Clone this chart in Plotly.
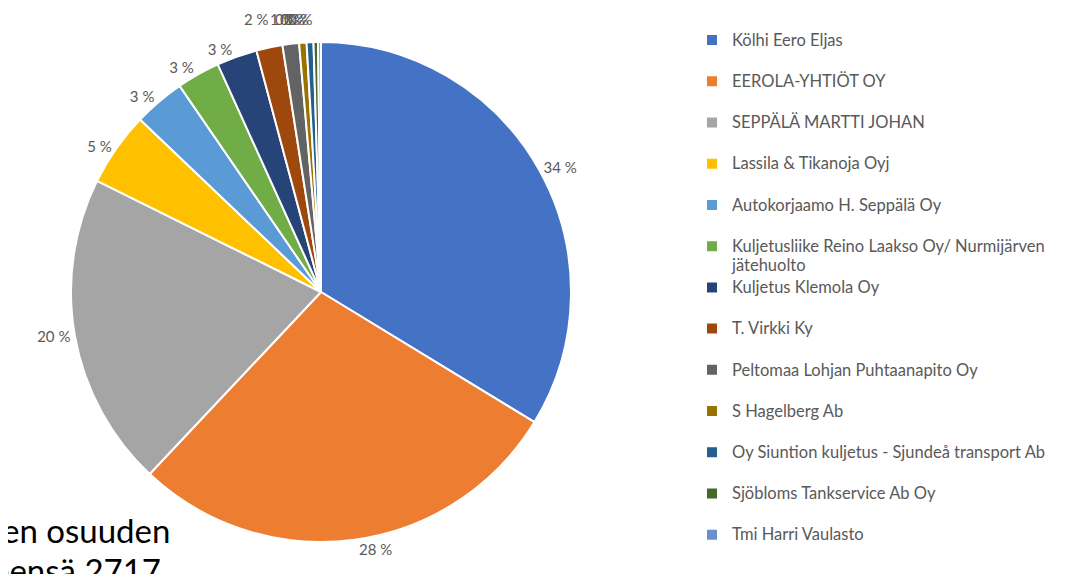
import plotly.graph_objects as go

# Company shares (counts, total 2717)
companies = [
    "Kölhi Eero Eljas",
    "EEROLA-YHTIÖT OY",
    "SEPPÄLÄ MARTTI JOHAN",
    "Lassila & Tikanoja Oyj",
    "Autokorjaamo H. Seppälä Oy",
    "Kuljetusliike Reino Laakso Oy/ Nurmijärven<br>jätehuolto",
    "Kuljetus Klemola Oy",
    "T. Virkki Ky",
    "Peltomaa Lohjan Puhtaanapito Oy",
    "S Hagelberg Ab",
    "Oy Siuntion kuljetus - Sjundeå transport Ab",
    "Sjöbloms Tankservice Ab Oy",
    "Tmi Harri Vaulasto",
]
counts = [916, 769, 552, 130, 90, 76, 71, 46, 29, 13, 12, 8, 5]
colors = [
    "#4472C4", "#ED7D31", "#A5A5A5", "#FFC000", "#5B9BD5", "#70AD47",
    "#264478", "#9E480E", "#636363", "#997300", "#255E91", "#43682B",
    "#698ED0",
]

total = sum(counts)
pct_text = [f"{round(c / total * 100)} %" for c in counts]


def legend_name(name):
    # every legend slot is two lines tall (like Excel); glyphs a bit larger
    lines = name.split("<br>")
    if len(lines) == 1:
        lines.append("&nbsp;")
    return "<br>".join(f"<span style='font-size:16.5px'>{ln}</span>" for ln in lines)


legend_names = [legend_name(n) for n in companies]

W, H = 1074, 574
# page body has an 8px margin, so screen positions are shifted by it
OFF = 8
cx, cy, r = 321 - OFF, 292 - OFF, 250
LABEL_SIZE = 15

# the small slices at the top: Excel lays their labels in one overlapping row
n_big = 7
small_label_x = [243, 269, 274, 279, 283, 287]
small_label_y = 19

fig = go.Figure(
    go.Pie(
        labels=legend_names,
        values=counts,
        text=pct_text,
        textinfo="text",
        textposition=["outside"] * n_big + ["none"] * (len(counts) - n_big),
        sort=False,
        direction="clockwise",
        rotation=0,
        marker=dict(colors=colors, line=dict(color="white", width=2)),
        outsidetextfont=dict(size=LABEL_SIZE, color="#595959"),
        domain=dict(
            x=[(cx - r) / W, (cx + r) / W],
            y=[1 - (cy + r) / H, 1 - (cy - r) / H],
        ),
        hoverinfo="label+value+percent",
    )
)

for txt, sx in zip(pct_text[n_big:], small_label_x):
    fig.add_annotation(
        text=txt, x=(sx - OFF - 1) / W, y=1 - (small_label_y - OFF) / H,
        xref="paper", yref="paper", xanchor="left", yanchor="middle",
        showarrow=False, font=dict(size=LABEL_SIZE, color="#595959"),
    )

fig.add_annotation(
    text="en osuuden", x=-8 / W, y=1 - 522 / H, xref="paper", yref="paper",
    xanchor="left", yanchor="middle", showarrow=False,
    font=dict(size=33, color="black", family="Lato, sans-serif"),
)
fig.add_annotation(
    text="eensä 2717", x=-18 / W, y=1 - 562 / H, xref="paper", yref="paper",
    xanchor="left", yanchor="middle", showarrow=False,
    font=dict(size=33, color="black", family="Lato, sans-serif"),
)

fig.update_layout(
    width=W,
    height=H,
    margin=dict(l=0, r=0, t=0, b=0, autoexpand=False),
    paper_bgcolor="white",
    plot_bgcolor="white",
    font=dict(family="Lato, sans-serif", color="#595959"),
    legend=dict(
        x=684 / W, xanchor="left",
        y=1 - 16 / H, yanchor="top",
        font=dict(size=14.7, color="#595959"),
        valign="top",
        itemwidth=30,
        maxheight=H,
        bgcolor="rgba(0,0,0,0)",
    ),
)

fig.write_html("out.html")
